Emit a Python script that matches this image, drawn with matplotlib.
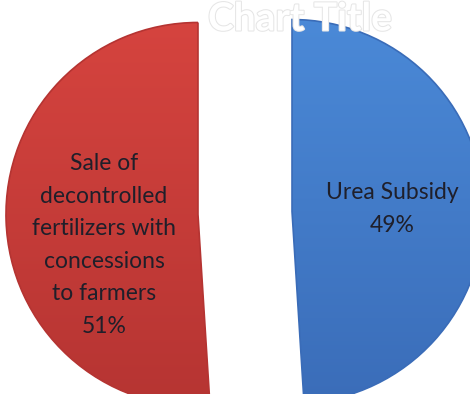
import numpy as np
import matplotlib
matplotlib.use("Agg")
import matplotlib.pyplot as plt
import matplotlib.patheffects as pe
from matplotlib.patches import Wedge
from matplotlib.colors import LinearSegmentedColormap

labels = ["Urea Subsidy", "Sale of\ndecontrolled\nfertilizers with\nconcessions\nto farmers"]
shares = [49, 51]
colors_top = ["#4b8ad8", "#d6443f"]
colors_bottom = ["#3a6cb8", "#b53432"]
explode = [0.245, 0.245]
title = "Chart Title"

W, H, DPI = 470, 394, 100
fig = plt.figure(figsize=(W / DPI, H / DPI), dpi=DPI)
ax = fig.add_axes([0, 0, 1, 1])

# one data unit = pie radius = 192 px
R_PX = 192.0
cx_px, cy_px = 245.0, 213.0
XLIM = (-cx_px / R_PX, (W - cx_px) / R_PX)
YLIM = (-(H - cy_px) / R_PX, cy_px / R_PX)

wedges, _ = ax.pie(shares, explode=explode, startangle=90, counterclock=False,
                   colors=colors_top, radius=1.0,
                   wedgeprops=dict(edgecolor="none"))

# vertical gradient fill, clipped to each wedge
for w, ct, cb in zip(wedges, colors_top, colors_bottom):
    cmap = LinearSegmentedColormap.from_list("g", [cb, ct])
    cx, cy = w.center
    grad = np.linspace(0, 1, 256).reshape(-1, 1)
    im = ax.imshow(grad, cmap=cmap, origin="lower", aspect="auto",
                   extent=[cx - 1.05, cx + 1.05, cy - 1.05, cy + 1.05],
                   interpolation="bilinear", zorder=1.5)
    im.set_clip_path(w)
    w.set_zorder(1)
    ax.add_patch(Wedge(w.center, w.r, w.theta1, w.theta2, fill=False,
                       edgecolor=cb, linewidth=1.2, zorder=2))

ax.set_xlim(*XLIM)
ax.set_ylim(*YLIM)
ax.set_aspect("equal")
ax.axis("off")

# slice labels with percentages
label_pos_px = [(392, 209), (104, 245)]
for lab, val, (px, py) in zip(labels, shares, label_pos_px):
    ax.text((px - cx_px) / R_PX, (cy_px - py) / R_PX, f"{lab}\n{val}%",
            ha="center", va="center", fontsize=16.5, family="Lato",
            color="#1f1f2a", linespacing=1.68, zorder=3)

fig.text(300 / W, 1 - 19 / H, title, ha="center", va="center",
         fontsize=28, family="Lato", fontweight="bold", color="white",
         path_effects=[pe.withStroke(linewidth=1.5, foreground="#e6e6e6")],
         zorder=5)

fig.savefig("out.png", dpi=DPI)
